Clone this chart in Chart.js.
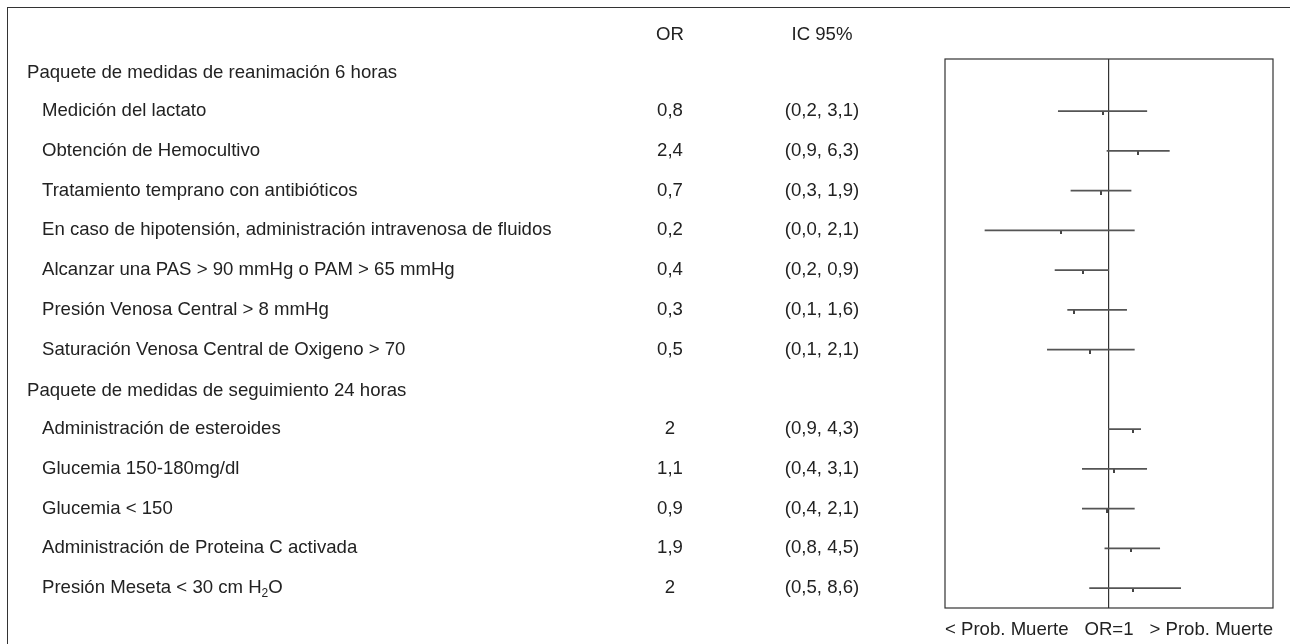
<!DOCTYPE html>
<html>
<head>
<meta charset="utf-8">
<script src="https://cdn.jsdelivr.net/npm/chart.js@4"></script>
<style>
  body { margin: 0; background: #fff; }
  #contenedor { position: relative; width: 1290px; height: 644px; }
  #marco { position: absolute; left: 7px; top: 7px; right: -10px; bottom: -10px; border-top: 1.5px solid #333; border-left: 1.5px solid #333; }
</style>
</head>
<body>
<div id="contenedor">
  <div id="marco"></div>
  <canvas id="graficoForest"></canvas>
</div>
<script>
// filas de la tabla (los grupos no tienen valores)
const filas = [
    'Paquete de medidas de reanimación 6 horas',
    'Medición del lactato',
    'Obtención de Hemocultivo',
    'Tratamiento temprano con antibióticos',
    'En caso de hipotensión, administración intravenosa de fluidos',
    'Alcanzar una PAS > 90 mmHg o PAM > 65 mmHg',
    'Presión Venosa Central > 8 mmHg',
    'Saturación Venosa Central de Oxigeno > 70',
    'Paquete de medidas de seguimiento 24 horas',
    'Administración de esteroides',
    'Glucemia 150-180mg/dl',
    'Glucemia < 150',
    'Administración de Proteina C activada',
    'Presión Meseta < 30 cm H{2}O'
];
const esGrupo = [true, false, false, false, false, false, false, false, true, false, false, false, false, false];
const orTexto = [null, '0,8', '2,4', '0,7', '0,2', '0,4', '0,3', '0,5', null, '2', '1,1', '0,9', '1,9', '2'];
const icTexto = [null, '(0,2, 3,1)', '(0,9, 6,3)', '(0,3, 1,9)', '(0,0, 2,1)', '(0,2, 0,9)', '(0,1, 1,6)', '(0,1, 2,1)',
    null, '(0,9, 4,3)', '(0,4, 3,1)', '(0,4, 2,1)', '(0,8, 4,5)', '(0,5, 8,6)'];

// valores tal como se ven dibujados en el gráfico
const orGrafico = [null, 0.82, 2.44, 0.77, 0.23, 0.45, 0.34, 0.56, null, 2.09, 1.18, 0.95, 1.99, 2.07];
const icInferior = [null, 0.21, 0.94, 0.31, 0.022, 0.19, 0.28, 0.15, null, 0.98, 0.44, 0.44, 0.88, 0.55];
const icSuperior = [null, 3.2, 6.4, 1.97, 2.18, 0.99, 1.72, 2.18, null, 2.65, 3.19, 2.18, 4.76, 9.07];

const encabezados = ['OR', 'IC 95%'];
const textoEje = ['< Prob. Muerte', 'OR=1', '> Prob. Muerte'];

const fuente = '18.6px "Liberation Sans", Arial, sans-serif';
const colorTexto = '#222';

const datosIC = [];
const datosOR = [];
filas.forEach((f, i) => {
    if (orGrafico[i] == null) return;
    datosIC.push({ x: [icInferior[i], icSuperior[i]], y: i });
    datosOR.push({ x: orGrafico[i], y: i });
});

// marca pequeña del OR, justo debajo de la línea
const marca = document.createElement('canvas');
marca.width = 2;
marca.height = 8;
const mctx = marca.getContext('2d');
mctx.fillStyle = '#444';
mctx.fillRect(0, 4, 2, 4);

function dibujarTexto(ctx, texto, x, y) {
    // {n} = subíndice
    const partes = texto.split(/(\{[^}]*\})/);
    partes.forEach(p => {
        if (!p) return;
        if (p.startsWith('{')) {
            const s = p.slice(1, -1);
            ctx.font = '12px "Liberation Sans", Arial, sans-serif';
            ctx.fillText(s, x, y + 6);
            x += ctx.measureText(s).width;
            ctx.font = fuente;
        } else {
            ctx.fillText(p, x, y);
            x += ctx.measureText(p).width;
        }
    });
}

const tablaPlugin = {
    id: 'tabla',
    afterDraw(chart) {
        const ctx = chart.ctx;
        const ys = chart.scales.y;
        const xs = chart.scales.x;
        const area = chart.chartArea;
        ctx.save();

        // marco del gráfico
        ctx.strokeStyle = '#333';
        ctx.lineWidth = 1.2;
        ctx.strokeRect(area.left, area.top, area.right - area.left, area.bottom - area.top);

        ctx.fillStyle = colorTexto;
        ctx.font = fuente;
        ctx.textBaseline = 'middle';

        const yEnc = ys.getPixelForValue(-1) + 3;
        ctx.textAlign = 'center';
        ctx.fillText(encabezados[0], 670, yEnc);
        ctx.fillText(encabezados[1], 822, yEnc);

        filas.forEach((f, i) => {
            const y = ys.getPixelForValue(i) + (esGrupo[i] ? 1.5 : 0);
            ctx.textAlign = 'left';
            dibujarTexto(ctx, f, esGrupo[i] ? 27 : 42, y);
            ctx.textAlign = 'center';
            if (orTexto[i]) ctx.fillText(orTexto[i], 670, y);
            if (icTexto[i]) ctx.fillText(icTexto[i], 822, y);
        });

        const yEje = area.bottom + 22;
        ctx.textAlign = 'left';
        ctx.fillText(textoEje[0], area.left, yEje);
        ctx.textAlign = 'center';
        ctx.fillText(textoEje[1], xs.getPixelForValue(1), yEje);
        ctx.textAlign = 'right';
        ctx.fillText(textoEje[2], area.right, yEje);
        ctx.restore();
    }
};

new Chart(document.getElementById('graficoForest'), {
    data: {
        datasets: [{
            type: 'bar',
            indexAxis: 'y',
            data: datosIC,
            barThickness: 1,
            backgroundColor: '#555',
            borderWidth: 0
        }, {
            type: 'scatter',
            data: datosOR,
            pointStyle: marca
        }]
    },
    options: {
        responsive: true,
        maintainAspectRatio: false,
        animation: false,
        layout: { padding: { left: 945, right: 17, top: 59, bottom: 36 } },
        plugins: { legend: { display: false }, tooltip: { enabled: false } },
        scales: {
            x: {
                type: 'logarithmic',
                min: 0.00643,
                max: 155.4,
                offset: false,
                afterBuildTicks: s => { s.ticks = [{ value: 1 }]; },
                ticks: { display: false },
                grid: { color: '#333', lineWidth: 1.2, drawTicks: false, offset: false },
                border: { display: false }
            },
            y: {
                type: 'linear',
                reverse: true,
                min: -0.31,
                max: 13.5,
                offset: false,
                grid: { offset: false },
                display: false
            }
        }
    },
    plugins: [tablaPlugin]
});
</script>
</body>
</html>
